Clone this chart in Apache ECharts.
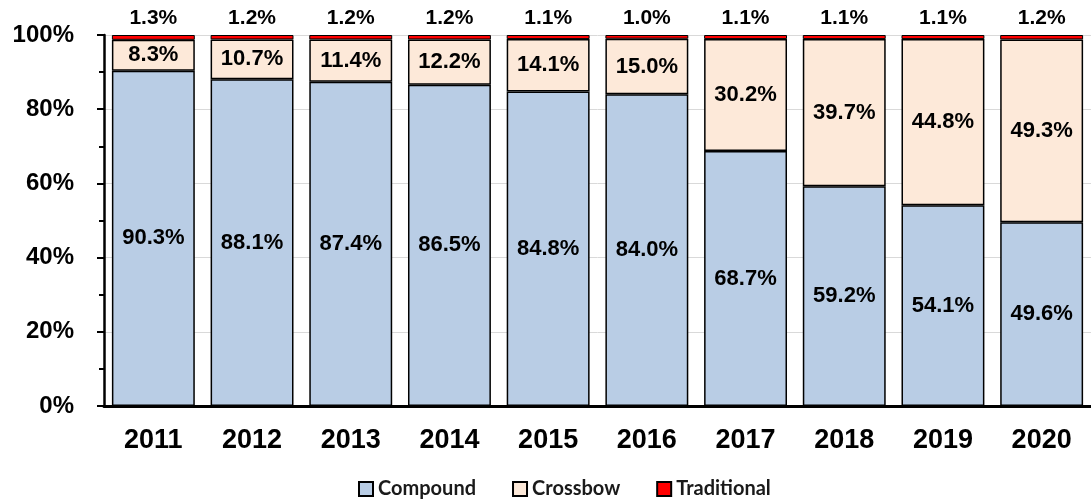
<!DOCTYPE html>
<html>
<head>
<meta charset="utf-8">
<script src="https://cdn.jsdelivr.net/npm/echarts@6/dist/echarts.min.js"></script>
<style>
  html, body { margin: 0; padding: 0; background: #fff; }
  #main { width: 1091px; height: 501px; }
</style>
</head>
<body>
<div id="main"></div>
<script>
// 年份
var years = ['2011', '2012', '2013', '2014', '2015', '2016', '2017', '2018', '2019', '2020'];
// 各类型占比 (%)
var compound = [90.3, 88.1, 87.4, 86.5, 84.8, 84.0, 68.7, 59.2, 54.1, 49.6];
var crossbow = [8.3, 10.7, 11.4, 12.2, 14.1, 15.0, 30.2, 39.7, 44.8, 49.3];
var traditional = [1.3, 1.2, 1.2, 1.2, 1.1, 1.0, 1.1, 1.1, 1.1, 1.2];
var yTicks = [0, 20, 40, 60, 80, 100];

var labelFont = 'Liberation Sans, Arial, sans-serif';

// 100% 堆积：按每年合计归一化，标签仍显示原始数值
function toShare(arr) {
  return arr.map(function (v, i) {
    var total = compound[i] + crossbow[i] + traditional[i];
    return { value: v / total * 100, raw: v };
  });
}

function pct(p) {
  return p.data.raw.toFixed(1) + '%';
}

var myChart = echarts.init(document.getElementById('main'));
var option = {
  animation: false,
  grid: {
    left: 104,
    right: -6,
    top: 35,
    bottom: 95
  },
  legend: {
    top: 474,
    left: 353,
    itemWidth: 14,
    itemHeight: 14,
    itemGap: 36,
    icon: 'rect',
    textStyle: {
      fontFamily: 'Lato, sans-serif',
      fontWeight: 'bold',
      fontSize: 20,
      color: '#1a1a1a'
    },
    data: ['Compound', 'Crossbow', 'Traditional']
  },
  xAxis: {
    type: 'category',
    data: years,
    axisLine: { lineStyle: { color: '#000', width: 3 } },
    axisTick: { show: false },
    axisLabel: {
      margin: 21,
      color: '#000',
      fontFamily: labelFont,
      fontWeight: 'bold',
      fontSize: 27
    }
  },
  yAxis: {
    type: 'value',
    min: yTicks[0],
    max: yTicks[yTicks.length - 1],
    interval: 20,
    axisLine: { show: true, lineStyle: { color: '#000', width: 2.5 } },
    axisTick: { show: true, length: 7, lineStyle: { color: '#000', width: 2 } },
    minorTick: { show: true, splitNumber: 2, length: 5, lineStyle: { color: '#000', width: 2 } },
    splitLine: { lineStyle: { color: '#d9d9d9', width: 1 } },
    axisLabel: {
      margin: 30,
      color: '#000',
      fontFamily: labelFont,
      fontWeight: 'bold',
      fontSize: 24,
      formatter: '{value}%'
    }
  },
  series: [
    {
      name: 'Compound',
      type: 'bar',
      stack: 'all',
      barCategoryGap: '16%',
      data: toShare(compound),
      itemStyle: { color: '#b9cde5', borderColor: '#000', borderWidth: 1.5 },
      label: {
        show: true,
        position: 'inside',
        color: '#000',
        fontFamily: labelFont,
        fontWeight: 'bold',
        fontSize: 22,
        formatter: pct
      }
    },
    {
      name: 'Crossbow',
      type: 'bar',
      stack: 'all',
      data: toShare(crossbow),
      itemStyle: { color: '#fde9d9', borderColor: '#000', borderWidth: 1.5 },
      label: {
        show: true,
        position: 'inside',
        color: '#000',
        fontFamily: labelFont,
        fontWeight: 'bold',
        fontSize: 22,
        formatter: pct
      }
    },
    {
      name: 'Traditional',
      type: 'bar',
      stack: 'all',
      data: toShare(traditional),
      itemStyle: { color: '#ff0000', borderColor: '#000', borderWidth: 1 },
      label: {
        show: true,
        position: 'top',
        distance: 6,
        color: '#000',
        fontFamily: labelFont,
        fontWeight: 'bold',
        fontSize: 21,
        formatter: pct
      }
    }
  ]
};
myChart.setOption(option);
</script>
</body>
</html>
